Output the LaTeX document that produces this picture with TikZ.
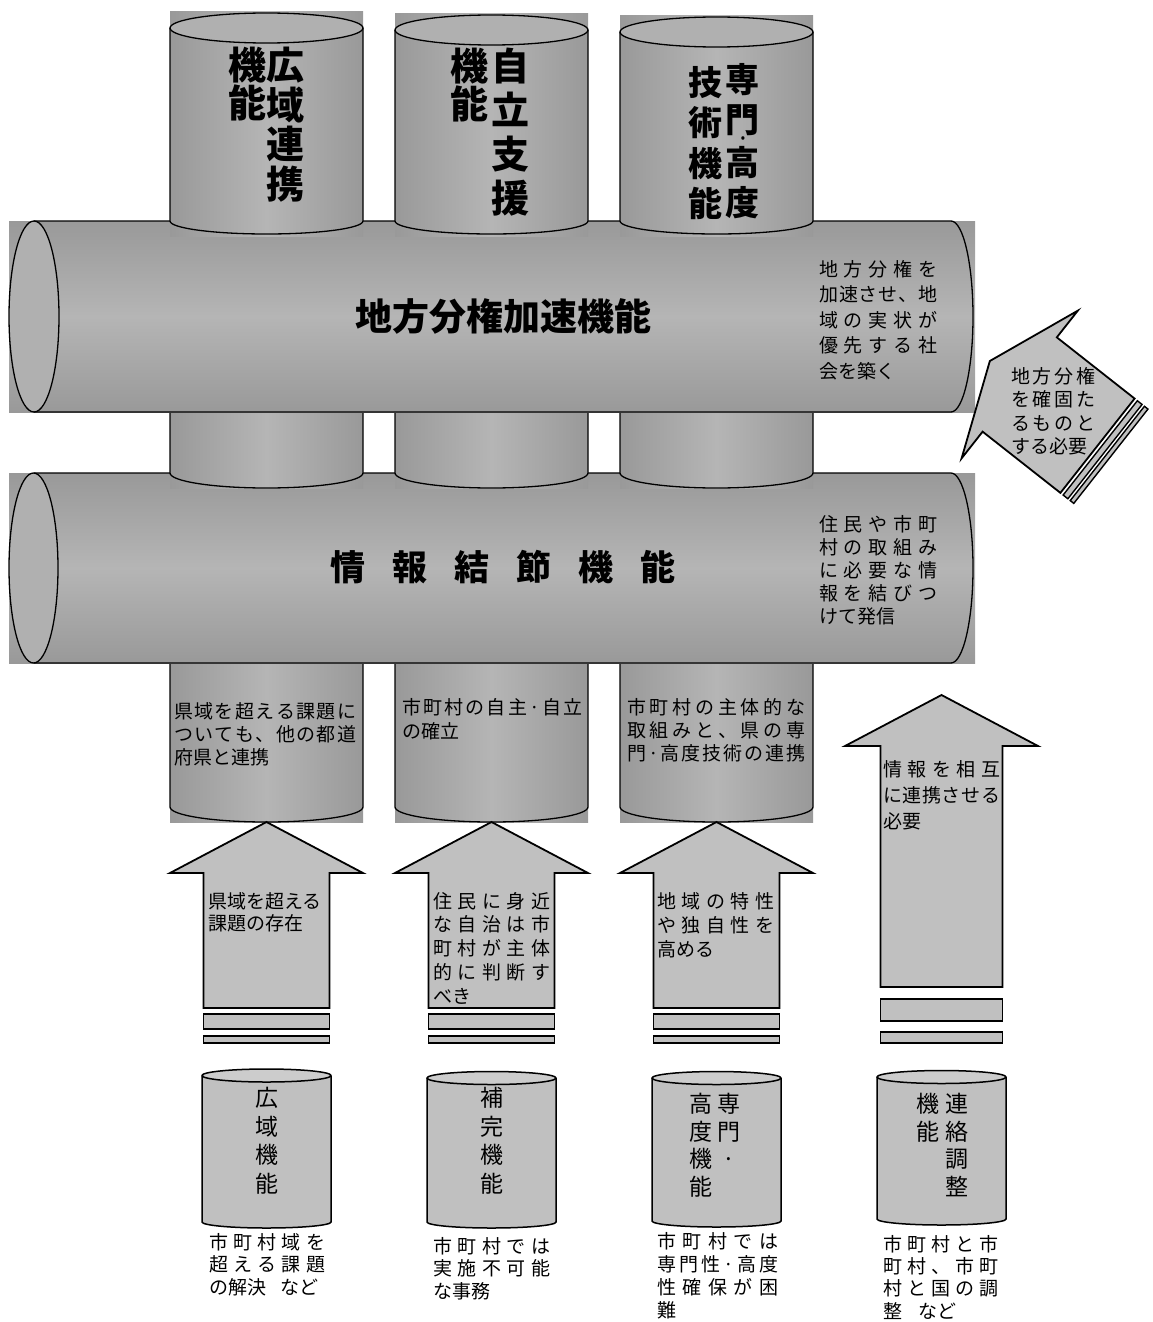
\documentclass[tikz,border=0pt]{standalone}
\usepackage{fontspec}
\newfontfamily\jp{Noto Sans CJK JP}

\definecolor{pipedark}{gray}{0.6}
\definecolor{pipelight}{gray}{0.71}
\definecolor{pipecap}{gray}{0.69}
\definecolor{blockgray}{gray}{0.753}
\definecolor{capgray}{gray}{0.8}

% spread the characters of one line over a given width
\newcommand\spread[2]{\makebox[#1][s]{\spreadfirst#2\relax}}
\def\spreadfirst#1{\ifx#1\relax\else#1\expandafter\spreadnext\fi}
\def\spreadnext#1{\ifx#1\relax\else\hfill#1\expandafter\spreadnext\fi}

\tikzset{
    pipe/.style={left color=pipedark, right color=pipedark, middle color=pipelight},
    hpipe/.style={top color=pipedark, bottom color=pipedark, middle color=pipelight},
    outline/.style={line width=1.3pt, line join=round},
    block/.style={draw, fill=blockgray, line width=1.8pt, line join=miter},
    note/.style={anchor=north west, inner sep=0pt, align=left,
                 font=\jp\fontsize{19}{#1}\selectfont},
    vtitle/.style 2 args={anchor=north, inner sep=0pt, align=center,
                 font=\jp\bfseries\fontsize{#1}{#2}\selectfont},
    vlabel/.style={anchor=north, inner sep=0pt, align=center,
                 font=\jp\fontsize{23}{#1}\selectfont},
}

\begin{document}
\begin{tikzpicture}[x=1pt, y=-1pt]
    \useasboundingbox (0,0) rectangle (1152,1322);

    % lower pieces of the columns
    \foreach \cx in {266.5, 491.5, 716.5} {
        \fill[pipe] (\cx-96.5,660) rectangle (\cx+96.5,822);
        \draw[outline] (\cx-96.5,663) -- (\cx-96.5,807)
            arc[start angle=180, end angle=0, x radius=96.5, y radius=15] -- (\cx+96.5,663);
    }

    % lower pipe
    \fill[hpipe] (9,473) rectangle (975,663);
    \draw[outline] (34,473) -- (951,473)
        arc[start angle=-90, end angle=90, x radius=22, y radius=95] -- (34,663);
    \draw[outline, fill=pipecap] (33.5,568) ellipse [x radius=24.5, y radius=95];

    % middle pieces
    \foreach \cx in {266.5, 491.5, 716.5} {
        \fill[pipe] (\cx-96.5,412) rectangle (\cx+96.5,488);
        \draw[outline] (\cx-96.5,412) -- (\cx-96.5,473)
            arc[start angle=180, end angle=0, x radius=96.5, y radius=15] -- (\cx+96.5,412);
    }

    % upper pipe
    \fill[hpipe] (9,221) rectangle (975,412);
    \draw[outline] (34,221) -- (951,221)
        arc[start angle=-90, end angle=90, x radius=22, y radius=95.5] -- (34,412);
    \draw[outline, fill=pipecap] (34,316.5) ellipse [x radius=25, y radius=95.5];

    % top pieces
    \foreach \cx/\ty in {266.5/28, 491.5/30, 716.5/32} {
        \fill[pipe] (\cx-96.5,\ty-16) rectangle (\cx+96.5,236);
        \draw[outline] (\cx-96.5,\ty) -- (\cx-96.5,221)
            arc[start angle=180, end angle=0, x radius=96.5, y radius=13] -- (\cx+96.5,\ty);
        \draw[outline, fill=pipecap] (\cx,\ty) ellipse [x radius=96.5, y radius=15];
    }

    \node[vtitle={38}{39.5}] (kouiki) at (285,47) {広\\域\\連\\携};
    \node[vtitle={38}{38}] (kouikik) at (247,47) {機\\能};
    \node[vtitle={38}{44}] (jiritsu) at (510,48) {自\\立\\支\\援};
    \node[vtitle={38}{38}] (jiritsuk) at (469,48) {機\\能};
    \node[vtitle={34}{40.5}] (senmon) at (742,63) {専\\門};
    \node[anchor=base, inner sep=0pt, font=\jp\bfseries\fontsize{16}{16}\selectfont]
        (senmondot) at (743,144.5) {·};
    \node[vtitle={34}{40.5}] (senmonlow) at (742,146) {高\\度};
    \node[vtitle={34}{40.5}] (senmonk) at (705,66) {技\\術\\機\\能};

    \node[anchor=north west, inner sep=0pt, font=\jp\bfseries\fontsize{37}{37}\selectfont]
        (kasoku) at (355,298) {地方分権加速機能};
    \node[anchor=north west, inner sep=0pt, font=\jp\bfseries\fontsize{35}{35}\selectfont]
        (kessetsu) at (330,550) {\spread{345pt}{情報結節機能}};

    \node[note=25.5] (kasokunote) at (819,260)
        {\spread{118pt}{地方分権を}\\\spread{118pt}{加速させ、地}\\\spread{118pt}{域の実状が}\\
         \spread{118pt}{優先する社}\\会を築く};
    \node[note=23] (kessetsunote) at (819,515)
        {\spread{118pt}{住民や市町}\\\spread{118pt}{村の取組み}\\\spread{118pt}{に必要な情}\\
         \spread{118pt}{報を結びつ}\\けて発信};

    \node[note=23] (kouikinote) at (174,702)
        {\spread{182pt}{県域を超える課題に}\\\spread{182pt}{ついても、他の都道}\\府県と連携};
    \node[note=24] (jiritsunote) at (402,698)
        {\spread{180pt}{市町村の自主·自立}\\の確立};
    \node[note=23] (senmonnote) at (627,698)
        {\spread{178pt}{市町村の主体的な}\\\spread{178pt}{取組みと、県の専}\\\spread{178pt}{門·高度技術の連携}};

    % arrows from below
    \foreach \cx in {266.5, 491.5, 716.5} {
        \draw[block] (\cx,822) -- (\cx+96.5,873) -- (\cx+63,873) -- (\cx+63,1008)
            -- (\cx-63,1008) -- (\cx-63,873) -- (\cx-96.5,873) -- cycle;
        \draw[block] (\cx-63,1014) rectangle (\cx+63,1029);
        \draw[block] (\cx-63,1036) rectangle (\cx+63,1043);
    }
    \draw[block] (941.5,695) -- (1038,746) -- (1002.5,746) -- (1002.5,987)
        -- (880.5,987) -- (880.5,746) -- (845,746) -- cycle;
    \draw[block] (880.5,999) rectangle (1002.5,1021);
    \draw[block] (880.5,1032) rectangle (1002.5,1043);

    \begin{scope}[shift={(1019.7,384.5)}, rotate=51.8]
        \draw[block] (0,-38) -- (94,0) -- (60,0) -- (60,99) -- (-60,99) -- (-60,0) -- (-94,0) -- cycle;
        \draw[block, line width=1.4pt] (-60,102.5) rectangle (60,108.5);
        \draw[block, line width=1.4pt] (-60,111.5) rectangle (60,116);
    \end{scope}

    \node[note=22] (kadai) at (208,892) {県域を超える\\課題の存在};
    \node[note=23.75] (jichi) at (433,892)
        {\spread{117pt}{住民に身近}\\\spread{117pt}{な自治は市}\\\spread{117pt}{町村が主体}\\
         \spread{117pt}{的に判断す}\\べき};
    \node[note=24] (tokusei) at (657,892)
        {\spread{117pt}{地域の特性}\\\spread{117pt}{や独自性を}\\高める};
    \node[note=26] (sougo) at (883,760)
        {\spread{117pt}{情報を相互}\\\spread{117pt}{に連携させる}\\必要};
    \node[note=23.5] (kakko) at (1011,367)
        {\spread{84pt}{地方分権}\\\spread{84pt}{を確固た}\\\spread{84pt}{るものと}\\する必要};

    % small pipes at the bottom
    \foreach \cx/\ty/\by in {266.5/1075.5/1222, 491.5/1078/1222, 716.5/1078/1221, 941.5/1077/1219} {
        \draw[block, line width=1.5pt] (\cx-64.5,\ty) -- (\cx-64.5,\by)
            arc[start angle=180, end angle=0, x radius=64.5, y radius=6] -- (\cx+64.5,\ty);
        \draw[outline, line width=1.5pt, fill=capgray] (\cx,\ty) ellipse [x radius=64.5, y radius=6.5];
    }

    \node[vlabel=28.7] (kouikib) at (266.5,1087) {広\\域\\機\\能};
    \node[vlabel=28.7] (hokan) at (491.5,1087) {補\\完\\機\\能};
    \node[vlabel=27.5] (senmonb) at (729,1093) {専\\門\\·};
    \node[vlabel=27.5] (senmonbk) at (701,1093) {高\\度\\機\\能};
    \node[vlabel=27.5] (renraku) at (957,1093) {連\\絡\\調\\整};
    \node[vlabel=27.5] (renrakuk) at (928,1093) {機\\能};

    \node[note=22.5] (kouikijimu) at (209,1233)
        {\spread{116pt}{市町村域を}\\\spread{116pt}{超える課題}\\の解決\hspace{14pt}など};
    \node[note=22.5] (hokanjimu) at (433,1237)
        {\spread{117pt}{市町村では}\\\spread{117pt}{実施不可能}\\な事務};
    \node[note=23] (senmonjimu) at (657,1232)
        {\spread{121pt}{市町村では}\\\spread{121pt}{専門性·高度}\\\spread{121pt}{性確保が困}\\難};
    \node[note=22.3] (renrakujimu) at (883,1235)
        {\spread{115pt}{市町村と市}\\\spread{115pt}{町村、市町}\\\spread{115pt}{村と国の調}\\整\hspace{16pt}など};
\end{tikzpicture}
\end{document}
